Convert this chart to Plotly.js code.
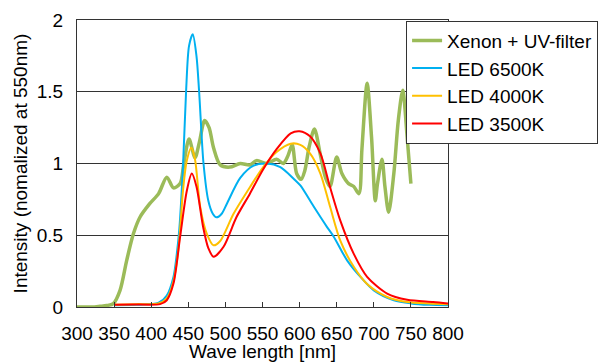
<!DOCTYPE html>
<html>
<head>
<meta charset="utf-8">
<script src="https://cdn.plot.ly/plotly-3.0.1.min.js"></script>
<style>
html,body{margin:0;padding:0;background:#fff;}
#chart{width:603px;height:362px;}
</style>
</head>
<body>
<div id="chart"></div>
<script>
// Xenon + UV-filter
const wlXenon = [300,320,331,340,349,358,367,376,385,398,410,421,430,439,444,451,459,465,472,478,484,493,506,520,533,542,556,569,578,584,590,596,602,607,613,620,628,635,641,650,657,666,673,680,684,691,697,702,705,711,715,720,727,733,739,745,750];
const valXenon = [0,0,0.005,0.01,0.024,0.116,0.325,0.51,0.627,0.72,0.79,0.905,0.83,0.86,1.0,1.17,1.04,1.15,1.30,1.25,1.11,0.99,0.975,1.0,0.99,1.02,1.0,1.03,1.0,1.05,1.13,0.93,0.89,0.95,1.12,1.24,1.06,0.9,0.84,1.045,0.93,0.86,0.84,0.79,1.1,1.56,1.18,0.74,0.86,1.03,0.84,0.66,0.93,1.30,1.51,1.18,0.86];

// LED 6500K
const wl6500 = [350,380,410,421,430,434.5,438,443,447,451,456,461,464.6,470.5,477,483,488,495,502,520,538,556,574,592,601,619,637,646,664,682,700,727,750,775,800];
const val6500 = [0.012,0.015,0.03,0.08,0.21,0.37,0.55,1.0,1.5,1.82,1.90,1.75,1.5,1.0,0.74,0.65,0.625,0.65,0.72,0.9,0.985,1.0,0.975,0.894,0.847,0.70,0.557,0.49,0.325,0.21,0.116,0.047,0.025,0.015,0.012];

// LED 4000K
const wl4000 = [350,380,410,421,430,437,443,448,454,459,466,475,484,493,511,533,551,569,588,601,614,628,641,655,673,691,718,745,775,800];
const val4000 = [0.016,0.02,0.025,0.06,0.18,0.42,0.82,1.02,1.11,1.03,0.70,0.51,0.43,0.46,0.65,0.835,0.975,1.08,1.138,1.13,1.07,0.93,0.70,0.46,0.28,0.16,0.07,0.035,0.025,0.02];

// LED 3500K
const wl3500 = [350,375,412,421,430,439,448,454.7,461,470,477,484,497.5,515,533,551,569,588,600,614,628,641,655,673,691,718,745,780,800];
const val3500 = [0.016,0.018,0.02,0.047,0.163,0.49,0.81,0.93,0.84,0.557,0.41,0.35,0.42,0.627,0.79,0.96,1.10,1.21,1.225,1.19,1.07,0.836,0.60,0.37,0.21,0.093,0.05,0.035,0.025];

const seriesNames = ['Xenon + UV-filter','LED 6500K','LED 4000K','LED 3500K'];

const font = 'Liberation Sans, Arial, sans-serif';

const traces = [
  {x: wlXenon, y: valXenon, name: seriesNames[0], line: {color: '#9BBB59', width: 3.5}},
  {x: wl6500, y: val6500, name: seriesNames[1], line: {color: '#00B0F0', width: 2}},
  {x: wl4000, y: val4000, name: seriesNames[2], line: {color: '#FFC000', width: 2}},
  {x: wl3500, y: val3500, name: seriesNames[3], line: {color: '#FF0000', width: 2}}
].map((t) => Object.assign(t, {
  type: 'scatter', mode: 'lines',
  line: Object.assign(t.line, {shape: 'spline', smoothing: 0.8})
}));

const layout = {
  width: 603, height: 362,
  margin: {l: 77, r: 155, t: 20, b: 55, pad: 0, autoexpand: false},
  paper_bgcolor: '#fff', plot_bgcolor: '#fff',
  font: {family: font, size: 19, color: '#000'},
  showlegend: true,
  legend: {
    x: 0.887, y: 0.998, xanchor: 'left', yanchor: 'top',
    bgcolor: '#fff', bordercolor: '#333', borderwidth: 1,
    font: {family: font, size: 19, color: '#000'},
    tracegroupgap: 0
  },
  xaxis: {
    range: [300, 800], dtick: 50, tick0: 300, tickangle: 0,
    showgrid: false, zeroline: false,
    ticks: 'inside', ticklen: 5, tickcolor: '#333',
    showline: true, linecolor: '#333', linewidth: 1, mirror: true,
    tickfont: {family: font, size: 19},
    ticklabelstandoff: 9,
    title: {text: 'Wave length [nm]', font: {family: font, size: 19}, standoff: 11},
    automargin: false
  },
  yaxis: {
    range: [0, 2], dtick: 0.5, tick0: 0,
    showgrid: true, gridcolor: '#333', gridwidth: 1, zeroline: false,
    ticks: '', showline: true, linecolor: '#333', linewidth: 1, mirror: true,
    tickfont: {family: font, size: 19},
    ticklabelstandoff: 9,
    title: {text: 'Intensity (nomalized at 550nm)', font: {family: font, size: 19}, standoff: 4},
    automargin: false
  }
};

Plotly.newPlot('chart', traces, layout, {staticPlot: true, displayModeBar: false});
</script>
</body>
</html>
